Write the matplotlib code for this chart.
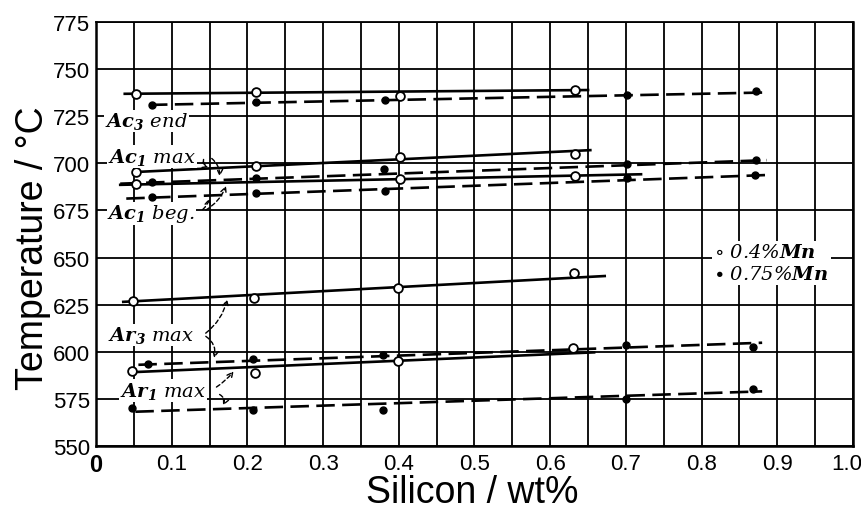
import numpy as np
import matplotlib.pyplot as plt
import matplotlib.transforms as mtransforms

plt.rcParams['mathtext.fontset'] = 'dejavuserif'

# measured points, 0.4 % Mn (open) and 0.75 % Mn (filled)
ac3_open_x = [0.053, 0.211, 0.402, 0.633]
ac3_open_y = [737.0, 737.6, 735.8, 739.1]
ac3_fill_x = [0.0735, 0.212, 0.382, 0.701, 0.872]
ac3_fill_y = [731.2, 732.3, 733.5, 736.1, 738.2]

ac1max_open_x = [0.053, 0.211, 0.402, 0.633]
ac1max_open_y = [695.5, 698.5, 703.1, 704.7]
ac1max_fill_x = [0.0735, 0.212, 0.381, 0.701, 0.872]
ac1max_fill_y = [690.3, 692.4, 696.9, 699.4, 701.7]

ac1beg_open_x = [0.053, 0.401, 0.633]
ac1beg_open_y = [688.8, 691.6, 693.4]
ac1beg_fill_x = [0.0735, 0.212, 0.382, 0.701, 0.870]
ac1beg_fill_y = [682.3, 684.1, 685.5, 692.0, 693.8]

ar3_open_x = [0.049, 0.209, 0.399, 0.631]
ar3_open_y = [627.2, 628.8, 634.1, 641.6]
ar3_fill_x = [0.069, 0.208, 0.379, 0.700, 0.868]
ar3_fill_y = [593.5, 596.3, 598.3, 603.6, 602.5]

ar1_open_x = [0.048, 0.210, 0.399, 0.630]
ar1_open_y = [589.6, 588.7, 595.0, 602.2]
ar1_fill_x = [0.048, 0.208, 0.379, 0.700, 0.868]
ar1_fill_y = [570.2, 569.0, 569.0, 575.0, 580.3]

# fitted lines (end points)
fit_solid = {
    'ac3': ([0.038, 0.650], [736.9, 738.9]),
    'ac1max': ([0.052, 0.653], [695.4, 707.0]),
    'ac1beg': ([0.032, 0.720], [688.6, 694.2]),
    'ar3': ([0.036, 0.672], [626.5, 640.2]),
    'ar1': ([0.049, 0.658], [589.2, 599.7]),
}
fit_dashed = {
    'ac3': ([0.070, 0.885], [731.0, 737.6]),
    'ac1max': ([0.032, 0.886], [689.2, 701.7]),
    'ac1beg': ([0.040, 0.886], [681.3, 693.8]),
    'ar3': ([0.056, 0.880], [593.1, 604.8]),
    'ar1': ([0.052, 0.880], [568.2, 579.0]),
}

xticks = np.round(np.arange(0, 1.01, 0.1), 1)
xticklabels = ['0'] + ['%.1f' % v for v in xticks[1:]]
yticks = np.arange(550, 776, 25)

fig = plt.figure(figsize=(8.61, 5.10), dpi=100)
ax = fig.add_axes([0.1115, 0.1235, 0.8792, 0.8314])

ax.set_xlim(0, 1.0)
ax.set_ylim(550, 775)
ax.set_xticks(xticks)
ax.set_xticklabels(xticklabels)
ax.set_xticks(np.arange(0.05, 1.0, 0.1), minor=True)
ax.set_yticks(yticks)
ax.grid(True, which='both', color='black', lw=1.3, zorder=0)
ax.tick_params(which='both', length=0, labelsize=16)
ax.tick_params(axis='y', pad=4)
ax.tick_params(axis='x', pad=5)
for lab in ax.get_xticklabels() + ax.get_yticklabels():
    lab.set_family('Liberation Sans')
xl = ax.get_xticklabels()
xl[0].set_fontweight('bold')
xl[0].set_fontsize(17)
xl[-1].set_transform(xl[-1].get_transform() +
                     mtransforms.ScaledTranslation(-6 / 100, 0, fig.dpi_scale_trans))
for s in ax.spines.values():
    s.set_linewidth(1.8)
ax.spines['top'].set_linewidth(1.3)

for k in fit_solid:
    x, y = fit_solid[k]
    ax.plot(x, y, color='black', lw=1.9, zorder=3)
for k in fit_dashed:
    x, y = fit_dashed[k]
    ax.plot(x, y, color='black', lw=1.9, dashes=(7, 2.8), zorder=3)

open_sets = [(ac3_open_x, ac3_open_y), (ac1max_open_x, ac1max_open_y),
             (ac1beg_open_x, ac1beg_open_y), (ar3_open_x, ar3_open_y),
             (ar1_open_x, ar1_open_y)]
fill_sets = [(ac3_fill_x, ac3_fill_y), (ac1max_fill_x, ac1max_fill_y),
             (ac1beg_fill_x, ac1beg_fill_y), (ar3_fill_x, ar3_fill_y),
             (ar1_fill_x, ar1_fill_y)]
for x, y in open_sets:
    ax.plot(x, y, 'o', ms=6.3, mfc='white', mec='black', mew=1.3, zorder=5)
for x, y in fill_sets:
    ax.plot(x, y, 'o', ms=5, color='black', zorder=5)

# curve labels
lab_kw = dict(family='DejaVu Serif', style='italic', fontsize=14, va='center',
              ha='left', zorder=6,
              bbox=dict(fc='white', ec='none', pad=0.5))
ax.text(0.012, 722.5, r'$\mathbfit{Ac}_\mathbfit{3}$ end', **lab_kw)
ax.text(0.016, 703.7, r'$\mathbfit{Ac}_\mathbfit{1}$ max', **lab_kw)
ax.text(0.015, 673.5, r'$\mathbfit{Ac}_\mathbfit{1}$ beg.', **lab_kw)
ax.text(0.016, 609.0, r'$\mathbfit{Ar}_\mathbfit{3}$ max', **lab_kw)
ax.text(0.032, 579.5, r'$\mathbfit{Ar}_\mathbfit{1}$ max', **lab_kw)

arr = dict(arrowstyle='->', lw=1.0, ls=(0, (3, 2)), color='black')
arrows = [
    ((0.143, 703.5), (0.152, 697.6), 0.6),
    ((0.150, 703.5), (0.163, 691.6), -0.3),
    ((0.138, 674.5), (0.151, 683.0), 0.2),
    ((0.142, 674.5), (0.173, 689.4), 0.2),
    ((0.142, 609.0), (0.174, 629.3), 0.2),
    ((0.142, 609.0), (0.155, 595.3), -0.4),
    ((0.156, 580.5), (0.184, 590.8), 0.1),
    ((0.160, 578.0), (0.166, 570.2), -0.6),
]
for (x0, y0), (x1, y1), rad in arrows:
    ax.annotate('', xy=(x1, y1), xytext=(x0, y0), zorder=6,
                arrowprops=dict(connectionstyle='arc3,rad=%s' % rad, **arr))

ax.text(0.817, 647.0, '$\\circ$ 0.4%$\\mathbfit{Mn}$\n$\\bullet$ 0.75%$\\mathbfit{Mn}$',
        family='DejaVu Serif', style='italic', fontsize=14, va='center',
        ha='left', linespacing=1.25, zorder=6,
        bbox=dict(fc='white', ec='none', pad=1.5))

ax.set_xlabel('Silicon / wt%', family='Liberation Sans', fontsize=27)
ax.set_ylabel('Temperature / °C', family='Liberation Sans', fontsize=27)
ax.xaxis.set_label_coords(0.497, -0.066)
ax.yaxis.set_label_coords(-0.06, 0.47)

fig.savefig('out.png', dpi=100)
